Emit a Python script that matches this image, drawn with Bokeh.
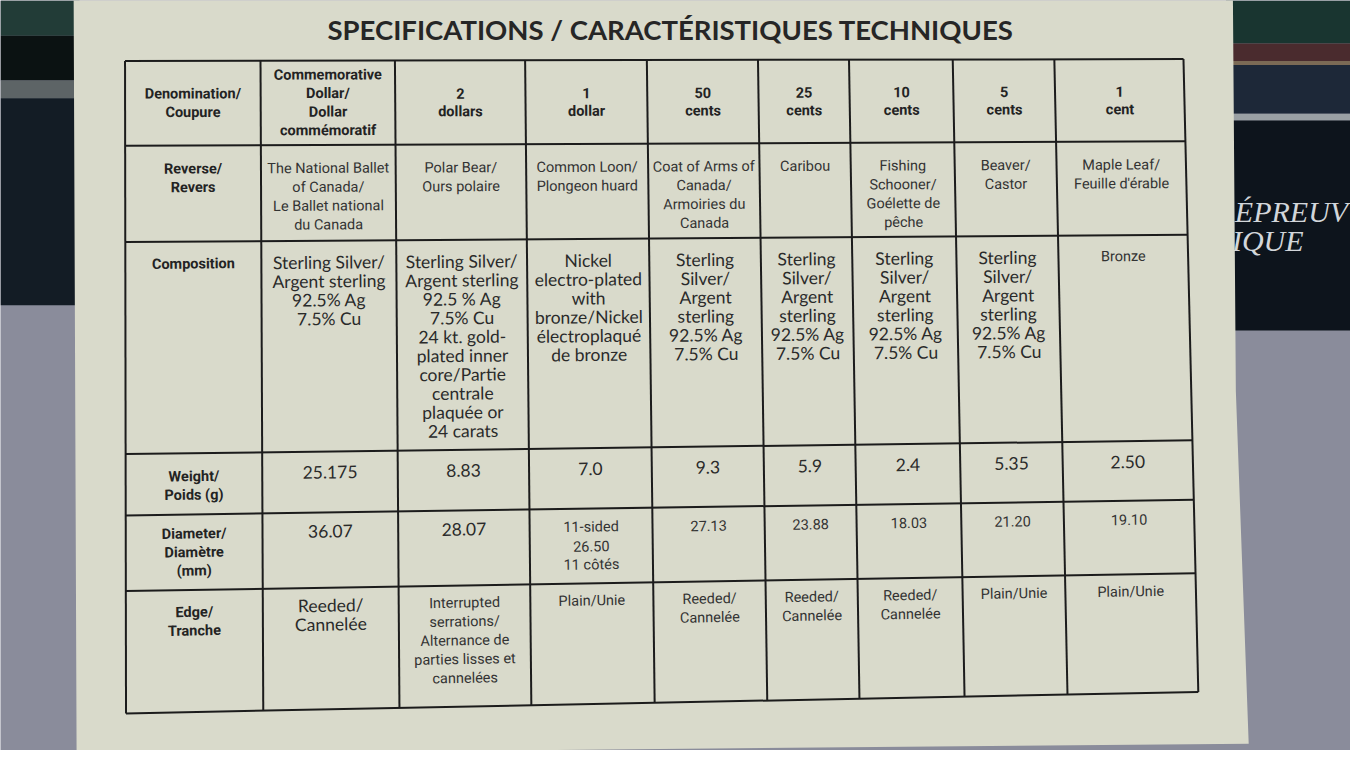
import math
from bokeh.plotting import figure
from bokeh.models import Range1d, ColumnDataSource
from bokeh.core.properties import value
from bokeh.embed import file_html
from bokeh.resources import INLINE

# ---------------- data (table content) ----------------
title = "SPECIFICATIONS / CARACTÉRISTIQUES TECHNIQUES"

row_labels = [
    "Denomination/\nCoupure",
    "Reverse/\nRevers",
    "Composition",
    "Weight/\nPoids (g)",
    "Diameter/\nDiamètre\n(mm)",
    "Edge/\nTranche",
]

denominations = [
    "Commemorative\nDollar/\nDollar\ncommémoratif",
    "2\ndollars", "1\ndollar", "50\ncents", "25\ncents",
    "10\ncents", "5\ncents", "1\ncent",
]

reverse = [
    "The National Ballet\nof Canada/\nLe Ballet national\ndu Canada",
    "Polar Bear/\nOurs polaire",
    "Common Loon/\nPlongeon huard",
    "Coat of Arms of\nCanada/\nArmoiries du\nCanada",
    "Caribou",
    "Fishing\nSchooner/\nGoélette de\npêche",
    "Beaver/\nCastor",
    "Maple Leaf/\nFeuille d'érable",
]

composition = [
    "Sterling Silver/\nArgent sterling\n92.5% Ag\n7.5% Cu",
    "Sterling Silver/\nArgent sterling\n92.5 % Ag\n7.5% Cu\n24 kt. gold-\nplated inner\ncore/Partie\ncentrale\nplaquée or\n24 carats",
    "Nickel\nelectro-plated\nwith\nbronze/Nickel\nélectroplaqué\nde bronze",
    "Sterling\nSilver/\nArgent\nsterling\n92.5% Ag\n7.5% Cu",
    "Sterling\nSilver/\nArgent\nsterling\n92.5% Ag\n7.5% Cu",
    "Sterling\nSilver/\nArgent\nsterling\n92.5% Ag\n7.5% Cu",
    "Sterling\nSilver/\nArgent\nsterling\n92.5% Ag\n7.5% Cu",
    "Bronze",
]

weight_g = ["25.175", "8.83", "7.0", "9.3", "5.9", "2.4", "5.35", "2.50"]

diameter_mm = ["36.07", "28.07", "11-sided\n26.50\n11 côtés", "27.13",
               "23.88", "18.03", "21.20", "19.10"]

edge = [
    "Reeded/\nCannelée",
    "Interrupted\nserrations/\nAlternance de\nparties lisses et\ncannelées",
    "Plain/Unie",
    "Reeded/\nCannelée",
    "Reeded/\nCannelée",
    "Reeded/\nCannelée",
    "Plain/Unie",
    "Plain/Unie",
]

box_text = ["ÉPREUV", "IQUE"]

value_rows = [denominations, reverse, composition, weight_g, diameter_mm, edge]

# ---------------- layout / styles ----------------
W, H = 1366, 768
TL, TR, BL, BR = (126, 62), (1197, 60), (127, 730), (1212, 708)
col_f = [0, .128, .255, .378, .493, .598, .684, .782, .878, 1.0]
row_f = [0, .130, .2775, .6025, .6965, .8125, 1.0]

label_off = [None, 24, 23, 24, 20, 23]
value_off = [None, 24, 22, 21, 19, 18]
value_style = [
    ["bold"] * 8,
    ["narrow"] * 8,
    ["wide"] * 7 + ["narrow"],
    ["wide"] * 8,
    ["wide", "wide"] + ["narrow"] * 6,
    ["wide"] + ["narrow"] * 7,
]
STY = {
    "bold": dict(font="Roboto", size="14.5px", style="bold", color="#232323", lh=19.0),
    "narrow": dict(font="Roboto", size="14.5px", style="normal", color="#333333", lh=19.3),
    "wide": dict(font="Lato", size="17.5px", style="normal", color="#2a2a2a", lh=19.3),
}


def m(u, v):
    x = (1-u)*(1-v)*TL[0] + u*(1-v)*TR[0] + (1-u)*v*BL[0] + u*v*BR[0]
    y = (1-u)*(1-v)*TL[1] + u*(1-v)*TR[1] + (1-u)*v*BL[1] + u*v*BR[1]
    return x, y


texts = {k: dict(x=[], y=[], text=[], angle=[]) for k in STY}


def place(r, c, s, offset, sty):
    lines = s.split("\n")
    u = (col_f[c] + col_f[c+1]) / 2
    x0, y0 = m(u, row_f[r])
    x1, y1 = m(u, row_f[r+1])
    L = math.hypot(x1-x0, y1-y0)
    dx, dy = (x1-x0)/L, (y1-y0)/L
    lh = STY[sty]["lh"]
    start = L/2 - (len(lines)-1)*lh/2 if offset is None else offset
    vm = (row_f[r] + row_f[r+1]) / 2
    xa, ya = m(col_f[c], vm)
    xb, yb = m(col_f[c+1], vm)
    ang = math.atan2(-(yb-ya), xb-xa)
    for i, t in enumerate(lines):
        d = start + i*lh
        texts[sty]["x"].append(x0 + dx*d)
        texts[sty]["y"].append(y0 + dy*d)
        texts[sty]["text"].append(t)
        texts[sty]["angle"].append(ang)


for r, lab in enumerate(row_labels):
    place(r, 0, lab, label_off[r], "bold")
for r, vals in enumerate(value_rows):
    for c, s in enumerate(vals):
        place(r, c+1, s, value_off[r], value_style[r][c])

# ---------------- figure ----------------
p = figure(width=1350, height=750, x_range=Range1d(0, W), y_range=Range1d(H, 0),
           output_backend="svg", toolbar_location=None, min_border=0)
p.axis.visible = False
p.grid.visible = False
p.outline_line_color = None
p.background_fill_color = "#8a8c9b"
p.border_fill_color = "#8a8c9b"

# background (photo surroundings)
p.quad(left=[0, 0, 0, 0], right=[80, 80, 80, 80], top=[0, 36, 82, 100],
       bottom=[36, 82, 100, 312], color=["#223c37", "#0b1212", "#5d6466", "#131c25"],
       line_color=None)
p.quad(left=[1240]*6, right=[W]*6, top=[0, 44, 62, 66, 116, 123],
       bottom=[44, 62, 66, 116, 123, 338],
       color=["#193530", "#4a2b2e", "#7b6a55", "#1d2838", "#9aa0a4", "#0d141c"],
       line_color=None)
p.text(x=[1249, 1246], y=[216, 246], text=box_text, text_font=value("Liberation Serif"),
       text_font_size=value("30px"), text_color="#d2d6da", text_align="left",
       text_baseline="middle", text_font_style="italic")

# card
p.patch(x=[74, 1247, 1250, 1263, 77], y=[-5, -5, 400, 761, 772],
        fill_color="#d9dacb", line_color=None)

# title
p.text(x=[678], y=[30], text=[title], text_font=value("Lato"),
       text_font_size=value("27.5px"), text_font_style="bold", text_color="#262626",
       text_align="center", text_baseline="middle")

# grid lines
xs, ys = [], []
for v in row_f:
    a, b = m(0, v), m(1, v)
    xs.append([a[0], b[0]]); ys.append([a[1], b[1]])
for u in col_f:
    a, b = m(u, 0), m(u, 1)
    xs.append([a[0], b[0]]); ys.append([a[1], b[1]])
p.multi_line(xs=xs, ys=ys, line_color="#1c1c1c", line_width=2)

# cell texts
for k, d in texts.items():
    st = STY[k]
    p.text(x="x", y="y", text="text", angle="angle", source=ColumnDataSource(d),
           text_font=value(st["font"]), text_font_size=value(st["size"]),
           text_font_style=st["style"], text_color=st["color"],
           text_align="center", text_baseline="middle")

open("out.html", "w").write(file_html(p, INLINE))
